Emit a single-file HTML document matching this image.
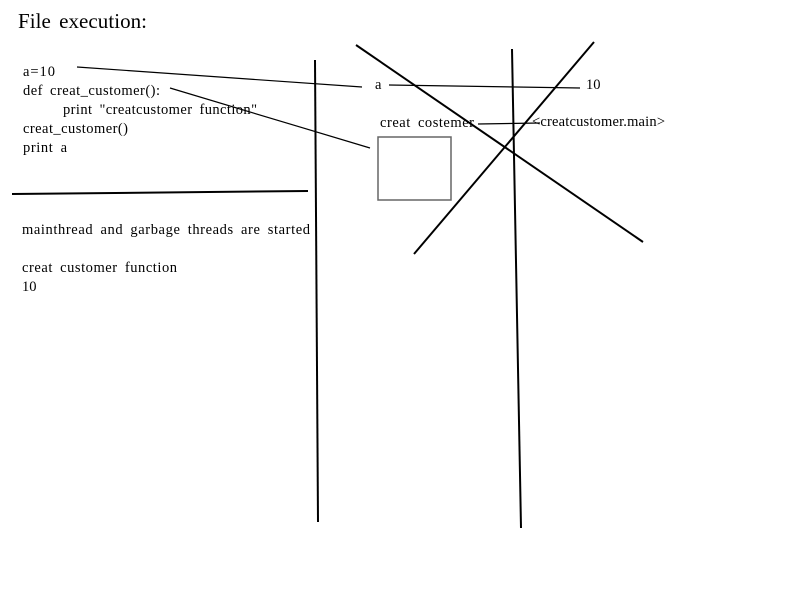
<!DOCTYPE html>
<html><head><meta charset="utf-8"><style>
html,body{margin:0;padding:0;background:#fff;}
svg{display:block;}
text{font-family:"Liberation Serif",serif;fill:#000;word-spacing:3px;}
</style></head><body>
<svg width="800" height="600" viewBox="0 0 800 600" xmlns="http://www.w3.org/2000/svg">
<text x="18" y="28" font-size="21" textLength="129" lengthAdjust="spacing">File execution:</text>
<g font-size="14.5">
<text x="23" y="76" textLength="32">a=10</text>
<text x="23" y="95" textLength="137">def creat_customer():</text>
<text x="63" y="114" textLength="194">print "creatcustomer function"</text>
<text x="23" y="133" textLength="105">creat_customer()</text>
<text x="23" y="152" textLength="44">print a</text>
<text x="22" y="234" textLength="288">mainthread and garbage threads are started</text>
<text x="22" y="272" textLength="155">creat customer function</text>
<text x="22" y="291">10</text>
<text x="375" y="89">a</text>
<text x="586" y="89">10</text>
<text x="380" y="127" textLength="94">creat costemer</text>
<text x="532" y="126" textLength="133">&lt;creatcustomer.main&gt;</text>
</g>
<g stroke="#000" fill="none">
<line x1="77" y1="67" x2="362" y2="87" stroke-width="1.2"/>
<line x1="170" y1="88" x2="370" y2="148" stroke-width="1.2"/>
<line x1="389" y1="85" x2="580" y2="88" stroke-width="1.2"/>
<line x1="478" y1="124" x2="540" y2="123" stroke-width="1.2"/>
<line x1="12" y1="194" x2="308" y2="191" stroke-width="2"/>
<line x1="315" y1="60" x2="318" y2="522" stroke-width="2"/>
<line x1="512" y1="49" x2="521" y2="528" stroke-width="2"/>
<line x1="356" y1="45" x2="643" y2="242" stroke-width="2"/>
<line x1="594" y1="42" x2="414" y2="254" stroke-width="2"/>
<rect x="378" y="137" width="73" height="63" stroke="#666" stroke-width="1.5"/>
</g>
</svg>
</body></html>
